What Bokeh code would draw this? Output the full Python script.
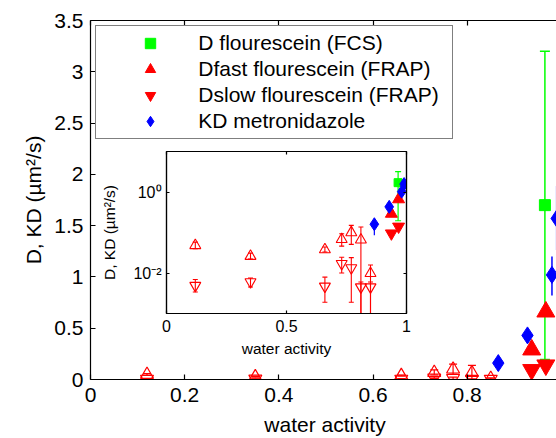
from bokeh.plotting import figure
from bokeh.models import (ColumnDataSource, Range1d, LinearAxis, LogAxis, FixedTicker,
                          NumeralTickFormatter, CustomJSTickFormatter, Legend, LegendItem, GridBox)
from bokeh.embed import file_html
from bokeh.resources import INLINE

FONT = "Liberation Sans"
GREEN = "#00ff00"
RED = "#ff0000"
BLUE = "#0000ff"

# ---------------- data ----------------
x_ticks = [0, 0.2, 0.4, 0.6, 0.8, 1.0]
y_ticks = [0, 0.5, 1.0, 1.5, 2.0, 2.5, 3.0, 3.5]
inset_x_ticks = [0, 0.5, 1.0]
inset_y_ticks = [0.01, 1.0]
inset_y_labels = ["10\u207b\u00b2", "10\u2070"]

# D fluorescein (FCS)
aw_fcs = [0.965]
d_fcs = [1.70]
d_fcs_lo = [0.195]
d_fcs_hi = [3.20]

# Dfast / Dslow fluorescein (FRAP), filled symbols
aw_frap = [0.937, 0.967]
dfast_frap = [0.29, 0.66]
dslow_frap = [0.095, 0.14]

# KD metronidazole
aw_kd = [0.866, 0.928, 0.980, 0.990]
kd = [0.16, 0.43, 1.02, 1.57]
kd_lo = [0.085, 0.41, 0.82, 1.26]
kd_hi = [0.20, 0.45, 1.20, 1.89]

# open symbols (FRAP, low water activity)
aw_open = [0.12, 0.35, 0.66, 0.73, 0.77, 0.81, 0.85]
dfast_open = [0.048, 0.026, 0.038, 0.068, 0.10, 0.066, 0.0098]
dfast_open_lo = [0.040, 0.022, 0.033, 0.046, 0.051, 0.0001, 0.0001]
dfast_open_hi = [0.058, 0.031, 0.044, 0.093, 0.150, 0.137, 0.0158]
dslow_open = [0.0049, 0.0060, 0.0047, 0.017, 0.0134, 0.0045, 0.0045]
dslow_open_lo = [0.0034, 0.0045, 0.0019, 0.010, 0.0019, 0.0001, 0.0001]
dslow_open_hi = [0.0069, 0.0075, 0.0079, 0.0245, 0.024, 0.0060, 0.0060]

src_fcs = ColumnDataSource(dict(x=aw_fcs, y=d_fcs, lo=d_fcs_lo, hi=d_fcs_hi))
src_frap = ColumnDataSource(dict(x=aw_frap, fast=dfast_frap, slow=dslow_frap))
src_kd = ColumnDataSource(dict(x=aw_kd, y=kd, lo=kd_lo, hi=kd_hi))
src_open = ColumnDataSource(dict(x=aw_open, fast=dfast_open, flo=dfast_open_lo, fhi=dfast_open_hi,
                                 slow=dslow_open, slo=dslow_open_lo, shi=dslow_open_hi))


def style_axis(ax, tick_size, label_size, tick_in):
    ax.axis_line_color = "black"
    ax.axis_line_width = 1.2
    ax.major_tick_line_color = "black"
    ax.major_tick_line_width = 1.2
    ax.major_tick_in = tick_in
    ax.major_tick_out = 0
    ax.minor_tick_line_color = None
    ax.major_label_text_font = FONT
    ax.major_label_text_font_size = tick_size
    ax.major_label_text_color = "black"
    ax.axis_label_text_font = FONT
    ax.axis_label_text_font_size = label_size
    ax.axis_label_text_font_style = "normal"
    ax.axis_label_text_color = "black"


def tick_only_axis(cls, ticks, tick_in):
    ax = cls(ticker=FixedTicker(ticks=ticks), formatter=CustomJSTickFormatter(code="return ''"))
    style_axis(ax, "1px", "1px", tick_in)
    ax.major_label_standoff = 0
    ax.axis_label_standoff = 0
    return ax


def draw(fig, s):
    # open FRAP symbols with error bars
    fig.segment(x0="x", y0="flo", x1="x", y1="fhi", source=src_open, line_color=RED, line_width=s["lw"])
    fig.segment(x0="x", y0="slo", x1="x", y1="shi", source=src_open, line_color=RED, line_width=s["lw"])
    for col in ["flo", "fhi", "slo", "shi"]:
        fig.scatter(x="x", y=col, source=src_open, marker="dash", size=s["cap"], line_color=RED,
                    line_width=s["lw"])
    fig.scatter(x="x", y="fast", source=src_open, marker="triangle", size=s["open"], fill_color=None,
                line_color=RED, line_width=s["lw"])
    fig.scatter(x="x", y="slow", source=src_open, marker="inverted_triangle", size=s["open"],
                fill_color=None, line_color=RED, line_width=s["lw"])
    # FCS
    fig.segment(x0="x", y0="lo", x1="x", y1="hi", source=src_fcs, line_color=GREEN, line_width=s["lw2"])
    fig.scatter(x="x", y="lo", source=src_fcs, marker="dash", size=s["cap2"], line_color=GREEN, line_width=s["lw2"])
    fig.scatter(x="x", y="hi", source=src_fcs, marker="dash", size=s["cap2"], line_color=GREEN, line_width=s["lw2"])
    r_fcs = fig.scatter(x="x", y="y", source=src_fcs, marker="square", size=s["sq"], fill_color=GREEN,
                        line_color=GREEN)
    # FRAP filled
    r_fast = fig.scatter(x="x", y="fast", source=src_frap, marker="triangle", size=s["tri"], fill_color=RED,
                         line_color=RED)
    r_slow = fig.scatter(x="x", y="slow", source=src_frap, marker="inverted_triangle", size=s["tri"],
                         fill_color=RED, line_color=RED)
    # KD
    fig.segment(x0="x", y0="lo", x1="x", y1="hi", source=src_kd, line_color=BLUE, line_width=s["lw2"])
    r_kd = fig.scatter(x="x", y="y", source=src_kd, marker="diamond", size=s["dia"], fill_color=BLUE,
                       line_color=BLUE)
    return r_fcs, r_fast, r_slow, r_kd


# ---------------- main figure ----------------
p = figure(frame_width=469, frame_height=359, x_range=Range1d(0, 0.996), y_range=Range1d(0, 3.5),
           output_backend="svg", toolbar_location=None,
           min_border_left=87, min_border_right=0, min_border_top=17, min_border_bottom=62)
p.outline_line_color = None
p.grid.visible = False
p.background_fill_color = "white"
p.border_fill_color = "white"

p.xaxis.ticker = FixedTicker(ticks=x_ticks)
p.xaxis.formatter = NumeralTickFormatter(format="0.[0]")
p.yaxis.ticker = FixedTicker(ticks=y_ticks)
p.yaxis.formatter = NumeralTickFormatter(format="0.[0]")
p.xaxis.axis_label = "water activity"
p.yaxis.axis_label = "D, KD (\u00b5m\u00b2/s)"
for ax in p.xaxis + p.yaxis:
    style_axis(ax, "21px", "21px", 5)
p.xaxis.major_label_standoff = 8
p.yaxis.major_label_standoff = 7
p.xaxis.axis_label_standoff = 8
p.yaxis.axis_label_standoff = 6

p.add_layout(tick_only_axis(LinearAxis, x_ticks, 5), "above")

main_sizes = dict(lw=1.2, lw2=1.5, cap=8, cap2=10, open=13, sq=11, tri=18, dia=17)
r_fcs, r_fast, r_slow, r_kd = draw(p, main_sizes)

legend = Legend(items=[
    LegendItem(label="D flourescein (FCS)", renderers=[r_fcs]),
    LegendItem(label="Dfast flourescein (FRAP)", renderers=[r_fast]),
    LegendItem(label="Dslow flourescein (FRAP)", renderers=[r_slow]),
    LegendItem(label="KD metronidazole", renderers=[r_kd]),
], location=(19, 240), margin=0, padding=dict(left=6, right=10, top=4, bottom=4),
    spacing=0, glyph_height=26, glyph_width=96,
    label_standoff=0, label_width=244, label_height=20,
    label_text_font=FONT, label_text_font_size="21px", label_text_color="black",
    border_line_color="black", border_line_width=1.2, background_fill_color="white",
    background_fill_alpha=1.0)
p.add_layout(legend)

# ---------------- inset figure ----------------
ins = figure(frame_width=240, frame_height=162, x_range=Range1d(0, 1), y_range=Range1d(1e-3, 10),
             y_axis_type="log", output_backend="svg", toolbar_location=None,
             min_border_left=90, min_border_right=10, min_border_top=20, min_border_bottom=64)
ins.margin = (131, 0, 0, 76)
ins.outline_line_color = "black"
ins.outline_line_width = 1.2
ins.grid.visible = False
ins.background_fill_color = "white"
ins.border_fill_alpha = 0

ins.xaxis.ticker = FixedTicker(ticks=inset_x_ticks)
ins.xaxis.formatter = NumeralTickFormatter(format="0.[0]")
ins.yaxis.ticker = FixedTicker(ticks=inset_y_ticks)
ins.yaxis.major_label_overrides = dict(zip(inset_y_ticks, inset_y_labels))
ins.xaxis.axis_label = "water activity"
ins.yaxis.axis_label = "D, KD (\u00b5m\u00b2/s)"
for ax in ins.xaxis + ins.yaxis:
    style_axis(ax, "16px", "15.5px", 3)
ins.xaxis.major_label_standoff = 6
ins.yaxis.major_label_standoff = 5
ins.xaxis.axis_label_standoff = 5
ins.yaxis.axis_label_standoff = 12

ins.add_layout(tick_only_axis(LinearAxis, inset_x_ticks, 3), "above")
ins.add_layout(tick_only_axis(LogAxis, inset_y_ticks, 3), "right")

inset_sizes = dict(lw=1.1, lw2=1.2, cap=5, cap2=6, open=11, sq=8, tri=12, dia=13)
draw(ins, inset_sizes)

layout = GridBox(children=[(p, 0, 0), (ins, 0, 0)])

open("out.html", "w").write(file_html(layout, INLINE))
